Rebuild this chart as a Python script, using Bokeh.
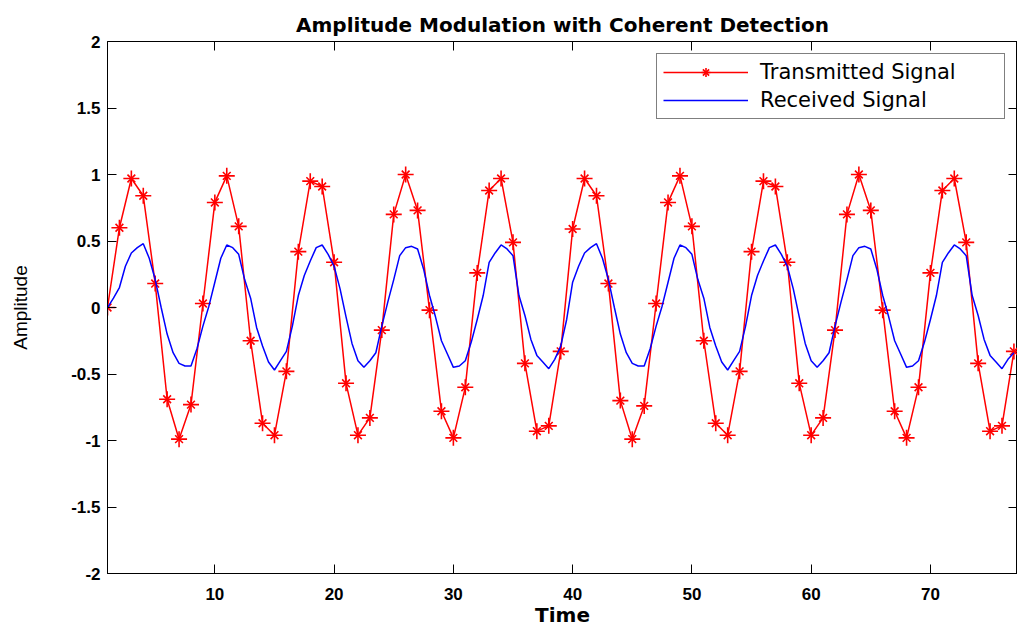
from bokeh.plotting import figure
from bokeh.models import (LinearAxis, FixedTicker, CustomJSTickFormatter, Legend,
                          LegendItem, Range1d, ColumnDataSource)
from bokeh.embed import file_html
from bokeh.resources import INLINE

# ---------------- data ----------------
time_tx = list(range(1, 78))
transmitted = [
    0.00, 0.60, 0.97, 0.84, 0.18, -0.69, -0.99, -0.73, 0.03, 0.79,
    0.99, 0.61, -0.25, -0.87, -0.96, -0.48, 0.42, 0.95, 0.91, 0.34,
    -0.57, -0.96, -0.83, -0.17, 0.70, 1.00, 0.73, -0.02, -0.78, -0.98,
    -0.60, 0.26, 0.88, 0.97, 0.49, -0.42, -0.93, -0.89, -0.33, 0.59,
    0.97, 0.84, 0.18, -0.70, -0.99, -0.74, 0.03, 0.79, 0.99, 0.61,
    -0.25, -0.87, -0.96, -0.48, 0.42, 0.95, 0.91, 0.34, -0.57, -0.96,
    -0.83, -0.17, 0.70, 1.00, 0.73, -0.02, -0.78, -0.98, -0.60, 0.26,
    0.88, 0.97, 0.49, -0.42, -0.93, -0.89, -0.33,
]

time_rx = [1 + 0.5 * i for i in range(153)]
received = [
    0.00, 0.07, 0.15, 0.31, 0.41, 0.45, 0.48, 0.37, 0.21, 0.00,
    -0.20, -0.34, -0.42, -0.44, -0.44, -0.31, -0.14, 0.01, 0.19, 0.37,
    0.47, 0.45, 0.40, 0.21, 0.07, -0.15, -0.29, -0.41, -0.47, -0.40,
    -0.33, -0.14, 0.09, 0.24, 0.35, 0.45, 0.47, 0.40, 0.31, 0.14,
    -0.07, -0.27, -0.40, -0.45, -0.40, -0.34, -0.14, 0.04, 0.21, 0.39,
    0.45, 0.46, 0.44, 0.29, 0.09, -0.07, -0.25, -0.35, -0.45, -0.44,
    -0.40, -0.26, -0.09, 0.09, 0.34, 0.41, 0.47, 0.44, 0.39, 0.09,
    -0.06, -0.24, -0.36, -0.41, -0.46, -0.39, -0.29,
    -0.09, 0.19, 0.31, 0.41, 0.45, 0.48, 0.37, 0.21, 0.00,
    -0.20, -0.34, -0.42, -0.44, -0.44, -0.31, -0.14, 0.01, 0.19, 0.37,
    0.47, 0.45, 0.40, 0.21, 0.07, -0.15, -0.29, -0.41, -0.47, -0.40,
    -0.33, -0.14, 0.09, 0.24, 0.35, 0.45, 0.47, 0.40, 0.31, 0.14,
    -0.07, -0.27, -0.40, -0.45, -0.40, -0.34, -0.14, 0.04, 0.21, 0.39,
    0.45, 0.46, 0.44, 0.29, 0.09, -0.07, -0.25, -0.35, -0.45, -0.44,
    -0.40, -0.26, -0.09, 0.09, 0.34, 0.41, 0.47, 0.44, 0.39, 0.09,
    -0.06, -0.24, -0.36, -0.41, -0.46, -0.39, -0.34,
]

x_ticks = [10, 20, 30, 40, 50, 60, 70]
y_ticks = [-2, -1.5, -1, -0.5, 0, 0.5, 1, 1.5, 2]

title_text = "Amplitude Modulation with Coherent Detection"
x_label = "Time"
y_label = "Amplitude"
tx_name = "Transmitted Signal"
rx_name = "Received Signal"

assert len(time_tx) == len(transmitted)
assert len(time_rx) == len(received)

FONT = "Liberation Sans"

# ---------------- figure ----------------
p = figure(width=1017, height=629,
           x_range=Range1d(1, 77.3), y_range=Range1d(-2, 2),
           output_backend="svg", toolbar_location=None,
           min_border_left=107, min_border_right=0,
           min_border_top=41, min_border_bottom=54,
           title=title_text)

p.background_fill_color = "white"
p.border_fill_color = "white"
p.outline_line_color = "black"
p.outline_line_width = 1
p.xgrid.visible = False
p.ygrid.visible = False

p.title.text_font = "DejaVu Sans"
p.title.text_font_size = "20px"
p.title.text_font_style = "bold"
p.title.text_color = "black"
p.title.align = "center"
p.title.standoff = 10

fmt = CustomJSTickFormatter(code="return tick.toString();")

for ax in p.xaxis:
    ax.ticker = FixedTicker(ticks=x_ticks)
    ax.formatter = fmt
    ax.axis_label = x_label
    ax.axis_label_text_font = "DejaVu Sans"
    ax.axis_label_text_font_size = "20px"
    ax.axis_label_text_font_style = "bold"
    ax.axis_label_text_color = "black"
    ax.axis_label_standoff = 0
    ax.major_label_text_font = FONT
    ax.major_label_text_font_size = "17px"
    ax.major_label_text_font_style = "bold"
    ax.major_label_text_color = "black"
    ax.major_label_standoff = 14
    ax.major_tick_in = 9
    ax.major_tick_out = 0
    ax.minor_tick_line_color = None
    ax.axis_line_color = "black"
    ax.major_tick_line_color = "black"

for ax in p.yaxis:
    ax.ticker = FixedTicker(ticks=y_ticks)
    ax.formatter = fmt
    ax.axis_label = y_label
    ax.axis_label_text_font = FONT
    ax.axis_label_text_font_size = "19px"
    ax.axis_label_text_font_style = "normal"
    ax.axis_label_text_color = "black"
    ax.axis_label_standoff = 37
    ax.major_label_text_font = FONT
    ax.major_label_text_font_size = "17px"
    ax.major_label_text_font_style = "bold"
    ax.major_label_text_color = "black"
    ax.major_label_standoff = 7
    ax.major_tick_in = 9
    ax.major_tick_out = 0
    ax.minor_tick_line_color = None
    ax.axis_line_color = "black"
    ax.major_tick_line_color = "black"

# mirrored tick marks on right and top (MATLAB box style), labels not drawn
right_ax = LinearAxis(ticker=FixedTicker(ticks=y_ticks),
                      major_tick_in=9, major_tick_out=0,
                      minor_tick_line_color=None,
                      major_label_text_font_size="1px",
                      major_label_text_color=None,
                      major_label_standoff=0, axis_line_color=None)
p.add_layout(right_ax, "right")
top_ax = LinearAxis(ticker=FixedTicker(ticks=x_ticks),
                    major_tick_in=9, major_tick_out=0,
                    minor_tick_line_color=None,
                    major_label_text_font_size="1px",
                    major_label_text_color=None,
                    major_label_standoff=0, axis_line_color=None)
p.add_layout(top_ax, "above")

# ---------------- glyphs ----------------
src_tx = ColumnDataSource(dict(t=time_tx, v=transmitted))
src_rx = ColumnDataSource(dict(t=time_rx, v=received))

tx_line = p.line("t", "v", source=src_tx, line_color="#FF0000", line_width=1.5)
tx_plus = p.scatter("t", "v", source=src_tx, marker="cross", size=16,
                    line_color="#FF0000", line_width=1.6)
tx_x = p.scatter("t", "v", source=src_tx, marker="x", size=11,
                 line_color="#FF0000", line_width=1.6)
rx_line = p.line("t", "v", source=src_rx, line_color="#0000FF", line_width=1.5)

legend = Legend(items=[LegendItem(label=tx_name, renderers=[tx_line, tx_plus, tx_x]),
                       LegendItem(label=rx_name, renderers=[rx_line])],
                location="top_right", margin=12, padding=6, spacing=4,
                glyph_width=85, glyph_height=22, label_height=22,
                label_standoff=12, label_width=238,
                label_text_font="DejaVu Sans", label_text_font_size="21px",
                label_text_color="black",
                border_line_color="black", border_line_width=1,
                background_fill_color="white", background_fill_alpha=1)
p.add_layout(legend)

open("out.html", "w").write(file_html(p, INLINE))
